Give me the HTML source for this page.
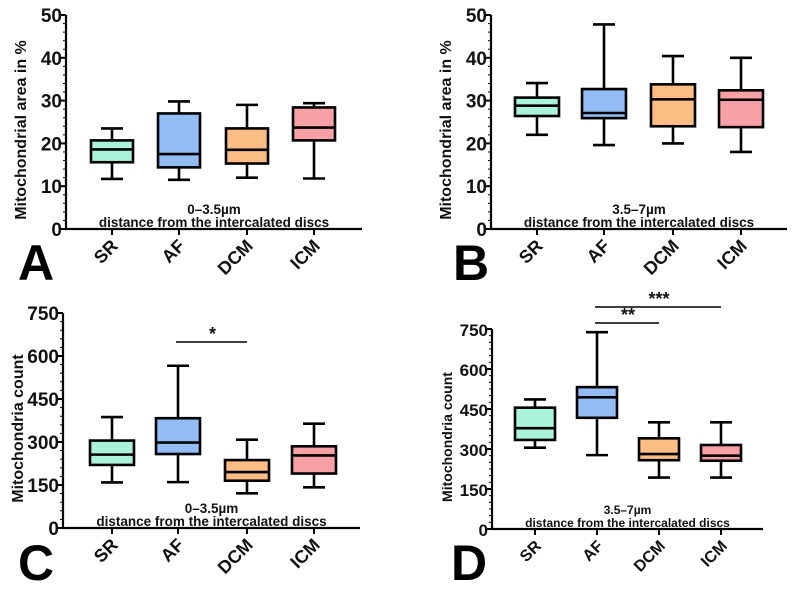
<!DOCTYPE html>
<html><head><meta charset="utf-8"><style>
body{margin:0;background:#fff}
svg{display:block;font-family:"Liberation Sans",Arial,sans-serif;font-weight:bold}
</style></head><body>
<svg id="fig" width="796" height="590" viewBox="0 0 796 590"></svg>
<script>
const categories=["SR","AF","DCM","ICM"];
const colors=["#aaf2da","#92bcf3","#fbbd84","#f7a0a6"];
// [min,q1,median,q3,max] per category
const panelA=[[11.7,15.6,18.6,20.7,23.5],[11.5,14.4,17.5,27,29.8],[12,15.3,18.5,23.5,29],[11.8,20.7,23.7,28.4,29.4]];
const panelB=[[22,26.4,28.8,30.7,34.1],[19.6,25.9,27.1,32.7,47.8],[20,24,30.3,33.8,40.4],[18,23.8,30.2,32.4,40]];
const panelC=[[159,220,256,305,387],[160,258,298,383,566],[121,165,195,237,308],[142,190,253,285,364]];
const panelD=[[305,334,378,455,486],[277,417,494,532,738],[193,258,281,340,400],[193,256,275,315,400]];
const ticksArea=[0,10,20,30,40,50];
const ticksCount=[0,150,300,450,600,750];
const NS="http://www.w3.org/2000/svg";
const svg=document.getElementById('fig');
function mk(tag,attrs,parent,text){const e=document.createElementNS(NS,tag);for(const k in attrs)e.setAttribute(k,attrs[k]);if(text!==undefined)e.textContent=text;(parent||svg).appendChild(e);return e;}
const panels=[
 {id:'a',letter:'A',lx:18,ly:280,data:panelA,ticks:ticksArea,max:50,minor:2,x0:66,x1:362,y0:229,y1:15,cats:[112,179,247,314],hw:21,ylab:"Mitochondrial area in %",dist:"0–3.5µm",fs:13.5,sig:[],yls:16,tls:19},
 {id:'b',letter:'B',lx:453,ly:280,data:panelB,ticks:ticksArea,max:50,minor:2,x0:491,x1:787,y0:229,y1:15,cats:[537,604,673,741],hw:22,ylab:"Mitochondrial area in %",dist:"3.5–7µm",fs:13.5,sig:[],yls:16,tls:19},
 {id:'c',letter:'C',lx:18,ly:580,data:panelC,ticks:ticksCount,max:750,minor:30,x0:63,x1:360,y0:528,y1:313,cats:[112,178,247,314],hw:22,ylab:"Mitochondria count",dist:"0–3.5µm",fs:13.5,sig:[{a:1,b:2,y:342,t:"*"}],yls:16,tls:19},
 {id:'d',letter:'D',lx:451,ly:580,data:panelD,ticks:ticksCount,max:750,minor:25,x0:492,x1:763,y0:529,y1:329,cats:[535,597,659,721],hw:20,ylab:"Mitochondria count",dist:"3.5–7µm",fs:12,sig:[{a:1,b:2,y:323,t:"**"},{a:1,b:3,y:307,t:"***"}],yls:14,tls:17}
];
panels.forEach(p=>{
 const g=mk('g',{});
 
 
 const ys=v=>p.y0-(v/p.max)*(p.y0-p.y1);
 const ya=mk('line',{x1:p.x0,y1:p.y1,x2:p.x0,y2:p.y0+1,stroke:'#000','stroke-width':2.2},g);
 
 
 for(let v=0;v<=p.max+1e-9;v+=p.minor){mk('line',{x1:p.x0-3,x2:p.x0,y1:ys(v),y2:ys(v),stroke:'#000','stroke-width':1},g);}
 p.ticks.forEach(v=>{
  mk('line',{x1:p.x0-6,x2:p.x0,y1:ys(v),y2:ys(v),stroke:'#000','stroke-width':2},g);
  const t=mk('text',{x:p.x0-4,y:ys(v)+7,'text-anchor':'end','font-size':p.tls,fill:'#111'},g,String(v));
  
  
 });
 const yl=mk('text',{x:0,y:0,transform:`translate(${p.x0-40},${(p.y0+p.y1)/2+8}) rotate(-90)`,'text-anchor':'middle','font-size':p.yls,fill:'#111'},g,p.ylab);
 
 
 const xa=mk('line',{x1:p.x0-1,y1:p.y0,x2:p.x1,y2:p.y0,stroke:'#000','stroke-width':2.2},g);
 
 
 const mid=(p.x0+p.x1)/2;
 const n1=mk('text',{x:mid,y:p.y0-15,'text-anchor':'middle','font-size':p.fs,fill:'#111'},g,p.dist);
 
 
 const n2=mk('text',{x:mid,y:p.y0-2,'text-anchor':'middle','font-size':p.fs,fill:'#111'},g,"distance from the intercalated discs");
 
 
 categories.forEach((c,i)=>{
  const cx=p.cats[i];
  mk('line',{x1:cx,x2:cx,y1:p.y0,y2:p.y0+6,stroke:'#000','stroke-width':2},g);
  const t=mk('text',{x:0,y:0,transform:`translate(${cx+7},${p.y0+18}) rotate(-45)`,'text-anchor':'end','font-size':p.tls-1,fill:'#111'},g,c);
  
  
  const d=p.data[i];
  const bg=mk('g',{},g);
  
  
  mk('line',{x1:cx,x2:cx,y1:ys(d[0]),y2:ys(d[4]),stroke:'#000','stroke-width':2.6},bg);
  mk('line',{x1:cx-11,x2:cx+11,y1:ys(d[0]),y2:ys(d[0]),stroke:'#000','stroke-width':2.6},bg);
  mk('line',{x1:cx-11,x2:cx+11,y1:ys(d[4]),y2:ys(d[4]),stroke:'#000','stroke-width':2.6},bg);
  mk('rect',{x:cx-p.hw,y:ys(d[3]),width:2*p.hw,height:ys(d[1])-ys(d[3]),fill:colors[i],stroke:'#000','stroke-width':2.6},bg);
  mk('line',{x1:cx-p.hw,x2:cx+p.hw,y1:ys(d[2]),y2:ys(d[2]),stroke:'#000','stroke-width':2.6},bg);
 });
 p.sig.forEach(s=>{
  const sg=mk('g',{},g);
  
  
  mk('line',{x1:p.cats[s.a]-2,x2:p.cats[s.b],y1:s.y,y2:s.y,stroke:'#000','stroke-width':1.5},sg);
  mk('text',{x:(p.cats[s.a]+p.cats[s.b])/2,y:s.y-2,'text-anchor':'middle','font-size':18,fill:'#111'},sg,s.t);
 });
 const L=mk('text',{x:p.lx,y:p.ly,'font-size':50,fill:'#000'},g,p.letter);
 
 
});
</script>
</body></html>
